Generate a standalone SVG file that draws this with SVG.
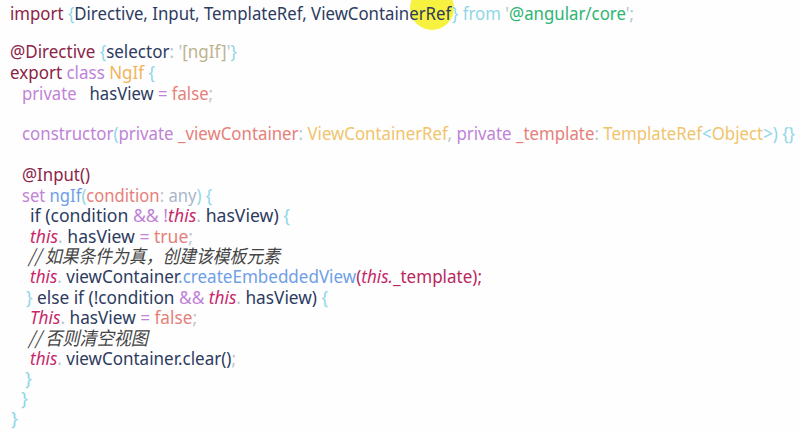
<svg xmlns="http://www.w3.org/2000/svg" width="800" height="430" viewBox="0 0 800 430">
<style>
text{font-family:"Noto Sans","Noto Sans CJK SC",sans-serif;font-size:18.5px;white-space:pre;fill:#2d3b5e}
.kw{fill:#8b2346}
.br{fill:#8fd6e8}
.nv{fill:#2d3b5e}
.pu{fill:#c083d8}
.sa{fill:#e6807a}
.ye{fill:#f0c46c}
.or{fill:#f0b45c}
.gr{fill:#2db574}
.lg{fill:#b9c5cc}
.st{fill:#bdb48e}
.an{fill:#a9b6c8}
.bl{fill:#6f9fe6}
.th{fill:#c8286a;font-style:italic}
.cr{fill:#b8285e}
.cm{fill:#444444;font-style:italic;font-family:"Noto Sans CJK SC","Noto Sans",sans-serif}
</style>
<rect width="800" height="430" fill="#fefefe"/>
<circle cx="432" cy="8" r="22" fill="#f6f02a" opacity="0.9"/>
<g id="code">
<text x="10" y="20" textLength="624" lengthAdjust="spacingAndGlyphs"><tspan class="kw">import</tspan> <tspan class="br">{</tspan><tspan class="nv">Directive, Input, TemplateRef, ViewContainerRef</tspan><tspan class="br">}</tspan> <tspan class="br">from</tspan> <tspan class="lg">'</tspan><tspan class="gr">@angular/core</tspan><tspan class="lg">';</tspan></text>
<text x="10" y="58" textLength="227" lengthAdjust="spacingAndGlyphs"><tspan class="kw">@Directive</tspan> <tspan class="br">{</tspan><tspan class="nv">selector</tspan><tspan class="lg">: '</tspan><tspan class="st">[ngIf]</tspan><tspan class="lg">'</tspan><tspan class="br">}</tspan></text>
<text x="10" y="79" textLength="145" lengthAdjust="spacingAndGlyphs"><tspan class="kw">export</tspan> <tspan class="pu">class</tspan> <tspan class="or">NgIf</tspan> <tspan class="br">{</tspan></text>
<text x="22" y="100" textLength="191" lengthAdjust="spacingAndGlyphs"><tspan class="pu">private</tspan>   <tspan class="nv">hasView</tspan> <tspan class="pu">=</tspan> <tspan class="sa">false</tspan><tspan class="lg">;</tspan></text>
<text x="22" y="140" textLength="773" lengthAdjust="spacingAndGlyphs"><tspan class="pu">constructor</tspan><tspan class="br">(</tspan><tspan class="pu">private</tspan> <tspan class="sa">_viewContainer</tspan><tspan class="lg">:</tspan> <tspan class="ye">ViewContainerRef</tspan><tspan class="lg">,</tspan> <tspan class="pu">private</tspan> <tspan class="sa">_template</tspan><tspan class="lg">:</tspan> <tspan class="ye">TemplateRef</tspan><tspan class="br">&lt;</tspan><tspan class="ye">Object</tspan><tspan class="br">&gt;) {}</tspan></text>
<text x="22" y="181" textLength="68" lengthAdjust="spacingAndGlyphs"><tspan class="kw">@Input()</tspan></text>
<text x="22" y="202" textLength="190" lengthAdjust="spacingAndGlyphs"><tspan class="pu">set</tspan> <tspan class="bl">ngIf</tspan><tspan class="br">(</tspan><tspan class="sa">condition</tspan><tspan class="lg">:</tspan> <tspan class="an">any</tspan><tspan class="br">) {</tspan></text>
<text x="30" y="222" textLength="260" lengthAdjust="spacingAndGlyphs"><tspan class="nv">if (condition</tspan> <tspan class="pu">&amp;&amp; !</tspan><tspan class="th">this</tspan><tspan class="lg">.</tspan> <tspan class="nv">hasView)</tspan> <tspan class="br">{</tspan></text>
<text x="30" y="243" textLength="163" lengthAdjust="spacingAndGlyphs"><tspan class="th">this</tspan><tspan class="lg">.</tspan> <tspan class="nv">hasView</tspan> <tspan class="pu">=</tspan> <tspan class="sa">true</tspan><tspan class="lg">;</tspan></text>
<text x="28" y="263" textLength="252" lengthAdjust="spacingAndGlyphs" class="cm">// 如果条件为真，创建该模板元素</text>
<text x="30" y="283" textLength="452" lengthAdjust="spacingAndGlyphs"><tspan class="th">this</tspan><tspan class="lg">.</tspan> <tspan class="nv">viewContainer</tspan><tspan class="bl">.createEmbeddedView</tspan><tspan class="cr">(</tspan><tspan class="th">this.</tspan><tspan class="cr">_template);</tspan></text>
<text x="26" y="304" textLength="302" lengthAdjust="spacingAndGlyphs"><tspan class="br">}</tspan> <tspan class="nv">else if (!condition</tspan> <tspan class="pu">&amp;&amp;</tspan> <tspan class="th">this</tspan><tspan class="lg">.</tspan> <tspan class="nv">hasView)</tspan> <tspan class="br">{</tspan></text>
<text x="30" y="324" textLength="167" lengthAdjust="spacingAndGlyphs"><tspan class="th">This</tspan><tspan class="lg">.</tspan> <tspan class="nv">hasView</tspan> <tspan class="pu">=</tspan> <tspan class="sa">false</tspan><tspan class="lg">;</tspan></text>
<text x="28" y="345" textLength="120" lengthAdjust="spacingAndGlyphs" class="cm">// 否则清空视图</text>
<text x="30" y="365" textLength="206" lengthAdjust="spacingAndGlyphs"><tspan class="th">this</tspan><tspan class="lg">.</tspan> <tspan class="nv">viewContainer.clear()</tspan><tspan class="lg">;</tspan></text>
<text x="25" y="385" class="br">}</text>
<text x="21" y="405" class="br">}</text>
<text x="11" y="425" class="br">}</text>
</g>
</svg>
